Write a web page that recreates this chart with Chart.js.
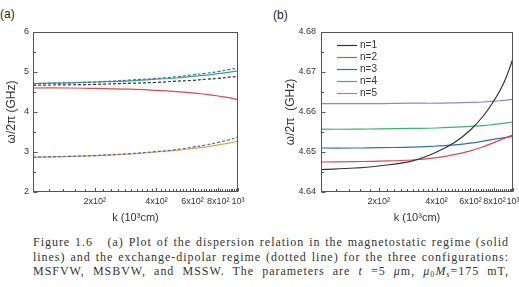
<!DOCTYPE html>
<html>
<head>
<meta charset="utf-8">
<style>
  html, body { margin: 0; padding: 0; background: #fff; }
  body { width: 519px; height: 287px; overflow: hidden; position: relative; }
  canvas { position: absolute; top: 0; }
  #chartA { left: 0; }
  #chartB { left: 260px; }
  .tag { position: absolute; font-family: "Liberation Sans", Arial, sans-serif; font-size: 12px; color: #222; }
  #caption { position: absolute; left: 33px; top: 235px; width: 476px;
             font-family: "Liberation Serif", "Times New Roman", serif; font-size: 12px;
             line-height: 14.5px; color: #333; }
  #caption div { text-align: justify; text-align-last: justify; white-space: nowrap; }
  #caption span { display: inline-block; }
  #caption sub { font-size: 0.68em; vertical-align: -2px; line-height: 0; }
</style>
</head>
<body>
<div class="tag" style="left:0px; top:7px;">(a)</div>
<div class="tag" style="left:273px; top:8px;">(b)</div>
<canvas id="chartA" width="260" height="225"></canvas>
<canvas id="chartB" width="290" height="225"></canvas>
<div id="caption">
  <div>Figure 1.6 &nbsp; (a) Plot of the dispersion relation in the magnetostatic regime (solid</div>
  <div>lines) and the exchange-dipolar regime (dotted line) for the three configurations:</div>
  <div>MSFVW, MSBVW, and MSSW. The parameters are <i>t</i> =5 <i>μ</i>m, <i>μ</i><sub>0</sub><i>M<sub>s</sub></i>=175 mT,</div>
</div>

<script src="https://cdn.jsdelivr.net/npm/chart.js"></script>
<script>
  // k values (10^3 cm) at which the curves were read
  const kValues = [100, 150, 200, 300, 400, 500, 600, 700, 800, 900, 1000];

  // panel (a): frequency in GHz
  const msswSolid    = [4.71, 4.73, 4.75, 4.78, 4.82, 4.85, 4.89, 4.92, 4.96, 4.99, 5.03];
  const msswExch     = [4.71, 4.73, 4.75, 4.80, 4.84, 4.88, 4.93, 4.97, 5.01, 5.06, 5.10];
  const msbvwExch    = [4.67, 4.68, 4.69, 4.72, 4.74, 4.77, 4.79, 4.82, 4.84, 4.87, 4.89];
  const msbvwSolid   = [4.60, 4.60, 4.59, 4.57, 4.54, 4.51, 4.48, 4.44, 4.40, 4.36, 4.31];
  const msfvwSolid   = [2.87, 2.89, 2.91, 2.95, 3.00, 3.04, 3.09, 3.13, 3.18, 3.22, 3.27];
  const msfvwExch    = [2.87, 2.89, 2.91, 2.96, 3.01, 3.06, 3.12, 3.18, 3.24, 3.30, 3.37];

  // panel (b): modes n=1..5, frequency in GHz
  const modeNames = ['n=1', 'n=2', 'n=3', 'n=4', 'n=5'];
  const mode1 = [4.6456, 4.6460, 4.6465, 4.6478, 4.6500, 4.6525, 4.6555, 4.6590, 4.6630, 4.6675, 4.6733];
  const mode2 = [4.6475, 4.6476, 4.6477, 4.6480, 4.6486, 4.6494, 4.6503, 4.6513, 4.6524, 4.6534, 4.6543];
  const mode3 = [4.6510, 4.6510, 4.6511, 4.6512, 4.6515, 4.6518, 4.6522, 4.6527, 4.6532, 4.6536, 4.6539];
  const mode4 = [4.6557, 4.6557, 4.6558, 4.6559, 4.6560, 4.6562, 4.6564, 4.6566, 4.6569, 4.6572, 4.6575];
  const mode5 = [4.6621, 4.6621, 4.6621, 4.6622, 4.6622, 4.6623, 4.6624, 4.6625, 4.6627, 4.6629, 4.6632];
  const modeColors = ['#333333', '#e8454f', '#2f6fbf', '#3cb46e', '#9485d2'];

  // x tick labels
  const xLabelValues = [200, 400, 600, 800, 1000];
  const xLabelText = ['2x10²', '4x10²', '6x10²', '8x10²', '10³'];
  const xTickValues = [];
  for (let k = 100; k <= 1000; k += 20) xTickValues.push(k);

  // spread the caption letters a little so its widest line nearly fills the column
  (function fitCaption() {
    const cap = document.getElementById('caption');
    const lines = Array.from(cap.children);
    lines.forEach(d => { d.innerHTML = '<span>' + d.innerHTML + '</span>'; });
    let widest = 0, chars = 1;
    lines.forEach(d => {
      const w = d.firstChild.getBoundingClientRect().width;
      if (w > widest) { widest = w; chars = d.textContent.length; }
    });
    const extra = (466 - widest) / chars;
    if (extra > 0) cap.style.letterSpacing = extra.toFixed(3) + 'px';
    lines.forEach(d => { d.innerHTML = d.firstChild.innerHTML; });
  })();

  const FONT = '"Liberation Sans", Arial, sans-serif';
  Chart.defaults.font.family = FONT;
  Chart.defaults.color = '#333';

  function pts(ys) {
    return kValues.map((k, i) => ({ x: k, y: ys[i] }));
  }

  // frame + inward tick marks
  const frameTicks = {
    id: 'frameTicks',
    afterDraw(chart) {
      const { ctx, chartArea: a, scales } = chart;
      ctx.save();
      ctx.strokeStyle = '#555';
      ctx.lineWidth = 1;
      const l = Math.round(a.left) + 0.5, r = Math.round(a.right) - 0.5;
      const t = Math.round(a.top) + 0.5, b = Math.round(a.bottom) - 0.5;
      ctx.strokeRect(l, t, r - l, b - t);
      ctx.beginPath();
      scales.x.ticks.forEach(tk => {
        const px = Math.round(scales.x.getPixelForValue(tk.value)) + 0.5;
        const len = xLabelValues.includes(tk.value) ? 3.5 : 2.5;
        ctx.moveTo(px, b); ctx.lineTo(px, b - len);
      });
      scales.y.ticks.forEach(tk => {
        const py = Math.round(scales.y.getPixelForValue(tk.value)) + 0.5;
        const len = tk.label ? 4 : 2.5;
        ctx.moveTo(l, py); ctx.lineTo(l + len, py);
      });
      ctx.stroke();
      ctx.restore();
    }
  };

  // legend drawn inside the plot, top-left
  const insideLegend = {
    id: 'insideLegend',
    afterDraw(chart) {
      const { ctx, chartArea: a } = chart;
      ctx.save();
      ctx.font = '10px ' + FONT;
      ctx.textBaseline = 'middle';
      chart.data.datasets.forEach((ds, i) => {
        const y = Math.round(a.top + 13 + i * 12) + 0.5;
        ctx.strokeStyle = ds.borderColor;
        ctx.lineWidth = 1.2;
        ctx.beginPath();
        ctx.moveTo(a.left + 16, y);
        ctx.lineTo(a.left + 36, y);
        ctx.stroke();
        ctx.fillStyle = '#333';
        ctx.fillText(ds.label, a.left + 39, y);
      });
      ctx.restore();
    }
  };

  function makeOptions(cfg) {
    return {
      responsive: false,
      animation: false,
      devicePixelRatio: 1,
      layout: { padding: { left: cfg.padLeft, top: 32, right: cfg.padRight, bottom: 0 } },
      plugins: { legend: { display: false }, tooltip: { enabled: false } },
      elements: { point: { radius: 0 }, line: { tension: 0.4, borderWidth: 1.2 } },
      scales: {
        x: {
          type: 'logarithmic',
          min: 100,
          max: 1000,
          afterBuildTicks: s => { s.ticks = xTickValues.map(v => ({ value: v })); },
          afterFit: s => { s.height = 33; },
          grid: { display: false, drawTicks: false },
          border: { display: false },
          ticks: {
            autoSkip: false, maxRotation: 0, minRotation: 0, padding: 4,
            font: { size: 9 },
            callback: v => {
              const i = xLabelValues.indexOf(v);
              return i >= 0 ? xLabelText[i] : '';
            }
          },
          title: {
            display: true,
            text: 'k (10³cm)',
            font: { size: 11 },
            padding: { top: 0, bottom: 0 }
          }
        },
        y: {
          min: cfg.yMin,
          max: cfg.yMax,
          afterFit: s => { s.width = cfg.yWidth; },
          grid: { display: false, drawTicks: false },
          border: { display: false },
          ticks: {
            autoSkip: false, padding: cfg.yPad,
            stepSize: cfg.yStep,
            font: { size: 9 },
            callback: cfg.yFmt
          },
          title: {
            display: true,
            text: cfg.yTitle,
            font: { size: 12 },
            padding: { top: 0, bottom: 0 }
          }
        }
      }
    };
  }

  new Chart(document.getElementById('chartA'), {
    type: 'line',
    data: {
      datasets: [
        { label: 'MSSW exch', data: pts(msswExch), borderColor: '#4f63c8', borderDash: [3, 2] },
        { label: 'MSSW', data: pts(msswSolid), borderColor: '#33a97a' },
        { label: 'MSBVW exch', data: pts(msbvwExch), borderColor: '#333333', borderDash: [3, 2] },
        { label: 'MSBVW', data: pts(msbvwSolid), borderColor: '#e0474f' },
        { label: 'MSFVW exch', data: pts(msfvwExch), borderColor: '#4f63c8', borderDash: [3, 2] },
        { label: 'MSFVW', data: pts(msfvwSolid), borderColor: '#e9a23b' }
      ]
    },
    options: makeOptions({
      padLeft: 4, padRight: 22, yWidth: 29, yPad: 4,
      yMin: 2, yMax: 6, yStep: 0.5,
      yTitle: 'ω/2π (GHz)',
      yFmt: v => (Math.abs(v - Math.round(v)) < 1e-6 ? String(Math.round(v)) : '')
    }),
    plugins: [frameTicks]
  });

  const modes = [mode1, mode2, mode3, mode4, mode5];
  new Chart(document.getElementById('chartB'), {
    type: 'line',
    data: {
      datasets: modes.map((m, i) => ({
        label: modeNames[i],
        data: pts(m),
        borderColor: modeColors[i]
      }))
    },
    options: makeOptions({
      padLeft: 23, padRight: 37, yWidth: 38, yPad: 5,
      yMin: 4.64, yMax: 4.68, yStep: 0.005,
      yTitle: 'ω/2π  (GHz)',
      yFmt: v => (Math.abs(v * 100 - Math.round(v * 100)) < 1e-6 ? v.toFixed(2) : '')
    }),
    plugins: [frameTicks, insideLegend]
  });
</script>
</body>
</html>
